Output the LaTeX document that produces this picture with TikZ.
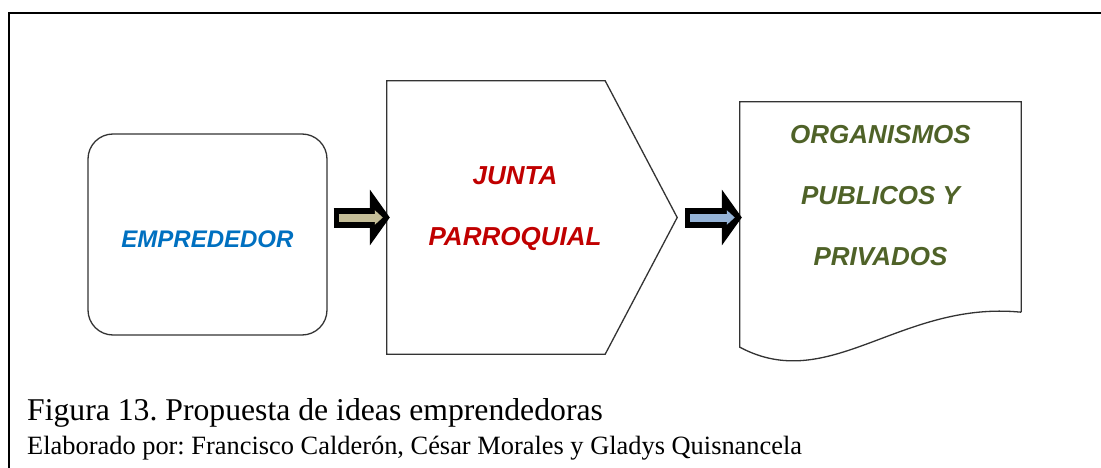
\documentclass[tikz,border=0pt]{standalone}
\usepackage{fontspec}
\setmainfont{Liberation Serif}
\newfontfamily\cajafont{Liberation Sans}
\usetikzlibrary{arrows.meta}
\frenchspacing

\definecolor{azul}{HTML}{0070C0}
\definecolor{rojo}{HTML}{C00000}
\definecolor{verde}{HTML}{4F6228}
\definecolor{caqui}{HTML}{C4BD97}
\definecolor{celeste}{HTML}{95B3D7}

\tikzset{
	borde/.style={line width=1.3pt, draw=black!80},
	etiq/.style={font=\cajafont\bfseries\itshape\fontsize{26}{61}\selectfont, align=center, inner sep=0pt},
	flechanegra/.style={line width=20pt, -{Triangle[length=20pt,width=55pt]}},
	flechacolor/.style={line width=8pt, -{Triangle[length=8pt,width=14pt]}},
}

\begin{document}
\begin{tikzpicture}[x=1pt, y=-1pt]
		\useasboundingbox (0,0) rectangle (1101,468);

		% marco
		\draw[line width=2.5pt] (9,468) -- (9,13) -- (1101,13);

		\draw (207.5,234.5) node[borde, rounded corners=25pt, minimum width=239pt, minimum height=201pt] (emp) {};
		\draw (532,217.5) node[minimum width=290pt, minimum height=273pt] (junta) {};
		\draw (880.5,217.5) node[minimum width=281pt, minimum height=231pt] (org) {};

		\draw[borde] (junta.north west) -- ([xshift=-72pt]junta.north east) -- (junta.east)
			-- ([xshift=-72pt]junta.south east) -- (junta.south west) -- cycle;
		\draw[borde] ([yshift=21pt]org.south east) -- (org.north east) -- (org.north west)
			-- ([yshift=-14pt]org.south west) .. controls +(90,48) and +(-121,-12) .. ([yshift=21pt]org.south east);

		\draw ([yshift=-5pt]emp.center) node[etiq, text=azul, font=\cajafont\bfseries\itshape\fontsize{24}{61}\selectfont] (emptxt) {EMPREDEDOR};
		\draw ([xshift=-17pt, yshift=8.5pt]junta.center) node[etiq, text=rojo] (juntatxt) {JUNTA\\PARROQUIAL};
		\draw ([yshift=22pt]org.center) node[etiq, text=verde] (orgtxt) {ORGANISMOS\\PUBLICOS Y\\PRIVADOS};

		\draw[flechanegra, shorten <=6pt, shorten >=-3pt] (emp.east |- junta.west) -- (junta.west);
		\draw[flechacolor, caqui, shorten <=11pt, shorten >=4pt] (emp.east |- junta.west) -- (junta.west);
		\draw[flechanegra, shorten <=8pt, shorten >=-2pt] (junta.east) -- (org.west);
		\draw[flechacolor, celeste, shorten <=13pt, shorten >=5pt] (junta.east) -- (org.west);

		\draw (27,420) node[anchor=base west, inner sep=0pt, font=\fontsize{31.7}{34}\selectfont] (titulo) {Figura 13. Propuesta de ideas emprendedoras};
		\draw (27,454) node[anchor=base west, inner sep=0pt, font=\fontsize{26.4}{30}\selectfont] (autores) {Elaborado por: Francisco Calderón, César Morales y Gladys Quisnancela};
	\end{tikzpicture}
\end{document}
